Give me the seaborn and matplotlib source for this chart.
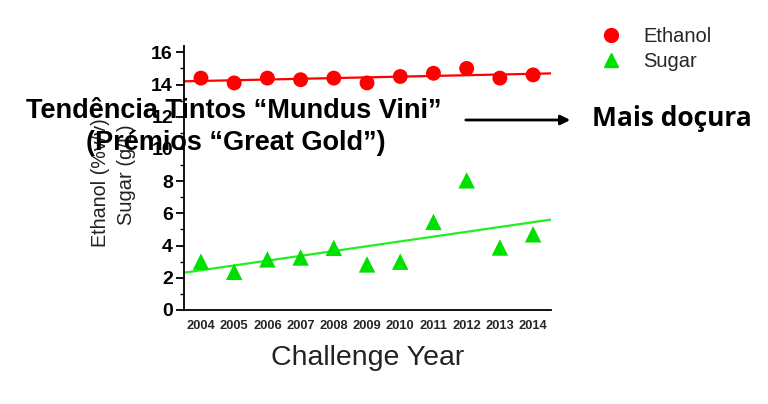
import numpy as np
import pandas as pd
import matplotlib
matplotlib.use("Agg")
import matplotlib.pyplot as plt
import seaborn as sns
from matplotlib.lines import Line2D
from matplotlib.ticker import MultipleLocator

years = [2004, 2005, 2006, 2007, 2008, 2009, 2010, 2011, 2012, 2013, 2014]
ethanol = [14.4, 14.1, 14.4, 14.3, 14.4, 14.1, 14.5, 14.7, 15.0, 14.4, 14.6]
sugar = [3.0, 2.37, 3.14, 3.26, 3.86, 2.83, 3.0, 5.47, 8.05, 3.88, 4.7]
yticks = [0, 2, 4, 6, 8, 10, 12, 14, 16]

sns.set_style("white")
plt.rcParams['font.family'] = ['Liberation Sans', 'DejaVu Sans']

df = pd.DataFrame({"year": years, "Ethanol": ethanol, "Sugar": sugar})

fig = plt.figure(figsize=(7.68, 4.04), dpi=100)
ax = fig.add_axes([0.2396, 0.2327, 0.4779, 0.6525])
ax.set_xlim(2003.49, 2014.54)
ax.set_ylim(0, 16.37)

red = '#FF0000'
green = '#00E000'
sns.regplot(data=df, x="year", y="Ethanol", ax=ax, ci=None, truncate=False,
            marker='o', color=red,
            scatter_kws=dict(s=115, color=red, edgecolor='none', alpha=1, zorder=3),
            line_kws=dict(color=red, lw=1.6, zorder=2))
sns.regplot(data=df, x="year", y="Sugar", ax=ax, ci=None, truncate=False,
            marker='^', color=green,
            scatter_kws=dict(s=140, color=green, edgecolor='none', alpha=1, zorder=3),
            line_kws=dict(color='#22EE22', lw=1.6, zorder=2))
ax.set_xlim(2003.49, 2014.54)
ax.set_ylim(0, 16.37)

sns.despine(ax=ax)
for s in ['left', 'bottom']:
    ax.spines[s].set_color('black')
    ax.spines[s].set_linewidth(1.3)

ax.set_yticks(yticks)
ax.yaxis.set_minor_locator(MultipleLocator(1))
ax.tick_params(axis='y', which='major', left=True, length=6, width=1.3, colors='black',
               labelsize=14, pad=2)
ax.tick_params(axis='y', which='minor', left=True, length=3, width=1.0, colors='black')
for lab in ax.get_yticklabels():
    lab.set_fontweight('bold')
ax.set_xticks(years)
ax.set_xticklabels([str(y) for y in years], fontsize=9.3, fontweight='bold')
ax.tick_params(axis='x', bottom=False, pad=4)
ax.set_xlabel("Challenge Year", fontsize=20.5, color='#222222', labelpad=9)
ax.set_ylabel("")

fig.text(101 / 768, 1 - 183 / 404, "Ethanol (%v/v)", rotation=90, ha='center', va='center',
         fontsize=14.2, color='#222222')
fig.text(126 / 768, 1 - 175 / 404, "Sugar (g/L)", rotation=90, ha='center', va='center',
         fontsize=14.5, color='#222222')

handles = [Line2D([], [], marker='o', ls='none', color=red, markersize=10, label='Ethanol'),
           Line2D([], [], marker='^', ls='none', color=green, markersize=10, label='Sugar')]
fig.legend(handles=handles, loc='upper left', bbox_to_anchor=(573 / 768, 1 - 9 / 404),
           frameon=False, fontsize=14.5, handletextpad=0.6, labelspacing=0.3)

fig.text(234 / 768, 1 - 111 / 404, "Tendência Tintos “Mundus Vini”", ha='center', va='center',
         fontsize=19.5, fontweight='bold', color='black', zorder=10)
fig.text(236 / 768, 1 - 143 / 404, "(Prémios “Great Gold”)", ha='center', va='center',
         fontsize=19.5, fontweight='bold', color='black', zorder=10)

fig.text(672 / 768, 1 - 119 / 404, "Mais doçura", ha='center', va='center',
         fontsize=19, fontweight='bold', family=['Open Sans', 'DejaVu Sans'], color='black')
fig.add_artist(matplotlib.patches.FancyArrowPatch((463 / 768, 1 - 120 / 404), (573 / 768, 1 - 120 / 404),
               transform=fig.transFigure, arrowstyle='-|>', mutation_scale=14,
               color='black', lw=2))

fig.savefig("out.png", dpi=100)
